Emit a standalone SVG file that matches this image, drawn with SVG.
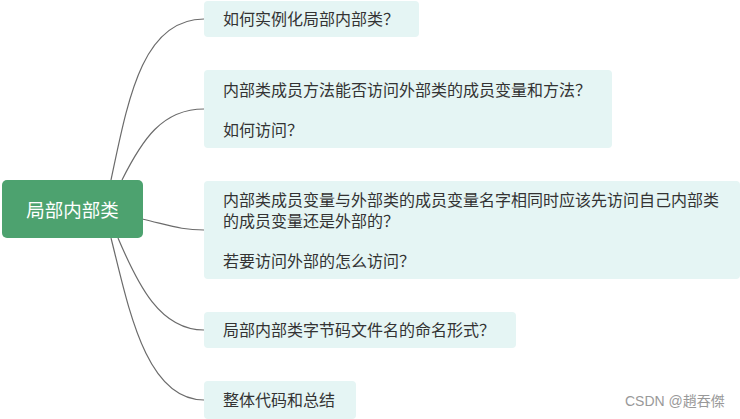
<svg xmlns="http://www.w3.org/2000/svg" width="740" height="419" viewBox="0 0 740 419">
<style>
.bg{fill:#ffffff}
.sub{fill:#E5F5F4}
.root{fill:#4DA26F}
.t{font-family:"Microsoft YaHei","Noto Sans CJK SC",sans-serif;font-size:16px;fill:#333333}
.rt{font-family:"Microsoft YaHei","Noto Sans CJK SC",sans-serif;font-size:18.5px;fill:#ffffff}
.wm{font-family:"Liberation Sans","Noto Sans CJK TC",sans-serif;font-size:14px;fill:#999999}
.c{fill:none;stroke:#6b6b6b;stroke-width:1.2}
</style>
<rect class="bg" x="0" y="0" width="740" height="419"/>
<g id="connectors">
<path class="c" d="M111,180 C128,100 142,19 204,19"/>
<path class="c" d="M122,180 C142,140 162,109 204,109"/>
<path class="c" d="M142,219 C172,226 182,230 204,230"/>
<path class="c" d="M118,238 C138,285 160,330 204,330"/>
<path class="c" d="M111,238 C128,305 145,400 204,400"/>
</g>
<g id="root">
<rect class="root" x="2" y="180" width="141" height="58" rx="5"/>
<text class="rt" x="72.5" y="217" text-anchor="middle">局部内部类</text>
</g>
<g id="n1">
<rect class="sub" x="204" y="1" width="215" height="36" rx="4"/>
<text class="t" x="223" y="25">如何实例化局部内部类？</text>
</g>
<g id="n2">
<rect class="sub" x="204" y="70" width="408" height="78" rx="4"/>
<text class="t" x="223" y="96">内部类成员方法能否访问外部类的成员变量和方法？</text>
<text class="t" x="223" y="136">如何访问？</text>
</g>
<g id="n3">
<rect class="sub" x="204" y="181" width="536" height="98" rx="4"/>
<text class="t" x="223" y="206">内部类成员变量与外部类的成员变量名字相同时应该先访问自己内部类</text>
<text class="t" x="223" y="227">的成员变量还是外部的？</text>
<text class="t" x="223" y="267">若要访问外部的怎么访问？</text>
</g>
<g id="n4">
<rect class="sub" x="204" y="312" width="312" height="36" rx="4"/>
<text class="t" x="223" y="336">局部内部类字节码文件名的命名形式？</text>
</g>
<g id="n5">
<rect class="sub" x="204" y="381" width="152" height="38" rx="4"/>
<text class="t" x="223" y="406">整体代码和总结</text>
</g>
<text class="wm" x="625" y="406">CSDN @趙吞傑</text>
</svg>
